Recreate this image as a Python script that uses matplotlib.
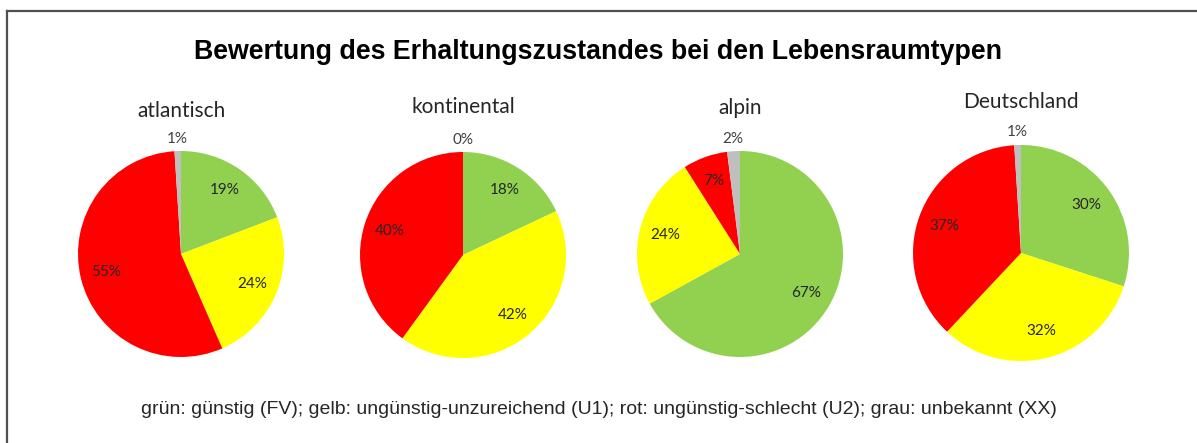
import numpy as np
import matplotlib
matplotlib.use("Agg")
import matplotlib.pyplot as plt
from matplotlib.lines import Line2D

W, H = 1197, 443

regions = ["atlantisch", "kontinental", "alpin", "Deutschland"]
# order: gruen (FV), gelb (U1), rot (U2), grau (XX)
values = [
    [19, 24, 55, 1],
    [18, 42, 40, 0],
    [67, 24, 7, 2],
    [30, 32, 37, 1],
]
colors = ["#92D050", "#FFFF00", "#FF0000", "#BFBFBF"]

title = "Bewertung des Erhaltungszustandes bei den Lebensraumtypen"
note = ("grün: günstig (FV); gelb: ungünstig-unzureichend (U1); "
        "rot: ungünstig-schlecht (U2); grau: unbekannt (XX)")

# pie placement in pixels: center x, center y, radius, title y
layout = [
    (181, 254, 103, 111),
    (463, 255, 103, 107),
    (740, 254, 103, 108),
    (1021, 253, 108, 102),
]

fig = plt.figure(figsize=(W / 100, H / 100), dpi=100)
fig.patch.set_facecolor("white")

# frame lines (top and left only)
fig.add_artist(Line2D([7 / W, 1.0], [1 - 11 / H, 1 - 11 / H], color="#505050", lw=1.6))
fig.add_artist(Line2D([7 / W, 7 / W], [1 - 11 / H, 0], color="#505050", lw=1.6))

fig.text(0.5, 1 - 52 / H, title, ha="center", va="center",
         fontsize=19.3, fontweight="bold", family="Liberation Sans")
fig.text(0.5, 1 - 410 / H, note, ha="center", va="center",
         fontsize=14, family="Liberation Sans", color="#262626")

for name, vals, (cx, cy, r, ty) in zip(regions, values, layout):
    ax = fig.add_axes([(cx - r) / W, 1 - (cy + r) / H, 2 * r / W, 2 * r / H])
    labels = [f"{v}%" for v in vals]
    wedges, texts = ax.pie(vals, colors=colors, startangle=90, counterclock=False,
                           labels=labels, labeldistance=0.75, radius=1,
                           textprops=dict(fontsize=11, family="Lato", color="#262626"))
    for t in texts:
        t.set_ha("center")
        t.set_va("center")
    # grey label sits outside the pie
    w = wedges[-1]
    ang = np.deg2rad((w.theta1 + w.theta2) / 2)
    dist = 1.12
    texts[-1].set_position((dist * np.cos(ang), dist * np.sin(ang)))
    texts[-1].set_color("#404040")
    ax.set_xlim(-1, 1)
    ax.set_ylim(-1, 1)
    ax.axis("off")
    fig.text(cx / W, 1 - ty / H, name, ha="center", va="center",
             fontsize=15, family="Lato", color="#262626")

fig.savefig("out.png", dpi=100)
